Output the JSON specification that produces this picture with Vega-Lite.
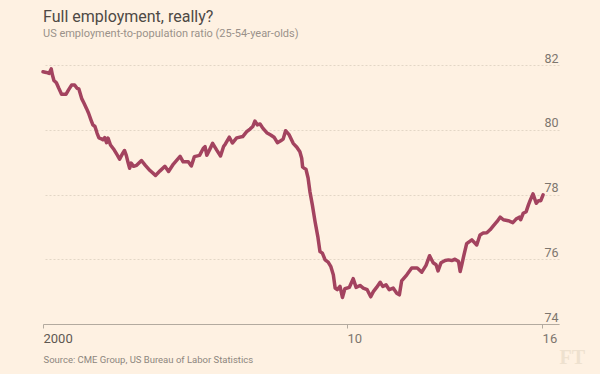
{
  "$schema": "https://vega.github.io/schema/vega-lite/v6.json",
  "width": 516,
  "height": 259,
  "autosize": "none",
  "padding": {"left": 43, "top": 65, "right": 41, "bottom": 50},
  "background": "#fef1e2",
  "config": {
    "view": {"stroke": null},
    "font": "Roboto"
  },
  "title": {
    "text": "Full employment, really?",
    "subtitle": "US employment-to-population ratio (25-54-year-olds)",
    "anchor": "start",
    "frame": "group",
    "font": "Roboto",
    "fontSize": 16,
    "fontWeight": "normal",
    "color": "#4e4945",
    "subtitleFont": "Roboto",
    "subtitleFontSize": 11,
    "subtitleColor": "#9a918a",
    "subtitlePadding": 3,
    "offset": 13
  },
  "data": {
    "values": [
      {"year": 2000.00, "ratio": 81.79},
      {"year": 2000.11, "ratio": 81.77},
      {"year": 2000.20, "ratio": 81.74},
      {"year": 2000.27, "ratio": 81.88},
      {"year": 2000.31, "ratio": 81.69},
      {"year": 2000.36, "ratio": 81.52},
      {"year": 2000.44, "ratio": 81.45},
      {"year": 2000.52, "ratio": 81.28},
      {"year": 2000.61, "ratio": 81.10},
      {"year": 2000.76, "ratio": 81.10},
      {"year": 2000.84, "ratio": 81.23},
      {"year": 2000.94, "ratio": 81.38},
      {"year": 2001.04, "ratio": 81.38},
      {"year": 2001.12, "ratio": 81.28},
      {"year": 2001.18, "ratio": 81.26},
      {"year": 2001.27, "ratio": 80.97},
      {"year": 2001.35, "ratio": 80.82},
      {"year": 2001.43, "ratio": 80.66},
      {"year": 2001.50, "ratio": 80.51},
      {"year": 2001.58, "ratio": 80.30},
      {"year": 2001.64, "ratio": 80.15},
      {"year": 2001.71, "ratio": 80.10},
      {"year": 2001.78, "ratio": 79.89},
      {"year": 2001.84, "ratio": 79.75},
      {"year": 2001.92, "ratio": 79.72},
      {"year": 2001.97, "ratio": 79.69},
      {"year": 2002.03, "ratio": 79.76},
      {"year": 2002.09, "ratio": 79.60},
      {"year": 2002.14, "ratio": 79.74},
      {"year": 2002.22, "ratio": 79.53},
      {"year": 2002.34, "ratio": 79.38},
      {"year": 2002.45, "ratio": 79.21},
      {"year": 2002.52, "ratio": 79.09},
      {"year": 2002.62, "ratio": 79.27},
      {"year": 2002.68, "ratio": 79.36},
      {"year": 2002.74, "ratio": 79.21},
      {"year": 2002.80, "ratio": 78.98},
      {"year": 2002.85, "ratio": 78.81},
      {"year": 2002.90, "ratio": 78.97},
      {"year": 2002.98, "ratio": 78.87},
      {"year": 2003.08, "ratio": 78.90},
      {"year": 2003.24, "ratio": 79.05},
      {"year": 2003.36, "ratio": 78.91},
      {"year": 2003.52, "ratio": 78.74},
      {"year": 2003.70, "ratio": 78.59},
      {"year": 2003.85, "ratio": 78.73},
      {"year": 2004.01, "ratio": 78.87},
      {"year": 2004.13, "ratio": 78.71},
      {"year": 2004.29, "ratio": 78.94},
      {"year": 2004.41, "ratio": 79.07},
      {"year": 2004.51, "ratio": 79.18},
      {"year": 2004.61, "ratio": 79.01},
      {"year": 2004.78, "ratio": 79.01},
      {"year": 2004.88, "ratio": 78.88},
      {"year": 2004.98, "ratio": 79.17},
      {"year": 2005.15, "ratio": 79.21},
      {"year": 2005.27, "ratio": 79.42},
      {"year": 2005.33, "ratio": 79.48},
      {"year": 2005.39, "ratio": 79.21},
      {"year": 2005.51, "ratio": 79.44},
      {"year": 2005.58, "ratio": 79.58},
      {"year": 2005.71, "ratio": 79.38},
      {"year": 2005.84, "ratio": 79.19},
      {"year": 2005.94, "ratio": 79.48},
      {"year": 2006.00, "ratio": 79.56},
      {"year": 2006.13, "ratio": 79.77},
      {"year": 2006.23, "ratio": 79.59},
      {"year": 2006.37, "ratio": 79.75},
      {"year": 2006.57, "ratio": 79.79},
      {"year": 2006.70, "ratio": 79.94},
      {"year": 2006.81, "ratio": 80.02},
      {"year": 2006.90, "ratio": 80.10},
      {"year": 2006.97, "ratio": 80.27},
      {"year": 2007.05, "ratio": 80.15},
      {"year": 2007.14, "ratio": 80.18},
      {"year": 2007.23, "ratio": 80.05},
      {"year": 2007.36, "ratio": 79.91},
      {"year": 2007.49, "ratio": 79.84},
      {"year": 2007.60, "ratio": 79.77},
      {"year": 2007.71, "ratio": 79.60},
      {"year": 2007.82, "ratio": 79.66},
      {"year": 2007.90, "ratio": 79.71},
      {"year": 2007.98, "ratio": 79.97},
      {"year": 2008.10, "ratio": 79.84},
      {"year": 2008.23, "ratio": 79.58},
      {"year": 2008.35, "ratio": 79.46},
      {"year": 2008.45, "ratio": 79.32},
      {"year": 2008.51, "ratio": 79.12},
      {"year": 2008.54, "ratio": 78.85},
      {"year": 2008.59, "ratio": 78.81},
      {"year": 2008.65, "ratio": 78.78},
      {"year": 2008.72, "ratio": 78.51},
      {"year": 2008.78, "ratio": 78.09},
      {"year": 2008.86, "ratio": 77.68},
      {"year": 2008.95, "ratio": 77.16},
      {"year": 2009.04, "ratio": 76.70},
      {"year": 2009.11, "ratio": 76.24},
      {"year": 2009.19, "ratio": 76.19},
      {"year": 2009.28, "ratio": 75.98},
      {"year": 2009.38, "ratio": 75.91},
      {"year": 2009.47, "ratio": 75.77},
      {"year": 2009.55, "ratio": 75.52},
      {"year": 2009.61, "ratio": 75.11},
      {"year": 2009.68, "ratio": 75.06},
      {"year": 2009.77, "ratio": 75.16},
      {"year": 2009.85, "ratio": 74.82},
      {"year": 2009.93, "ratio": 75.09},
      {"year": 2010.07, "ratio": 75.13},
      {"year": 2010.19, "ratio": 75.40},
      {"year": 2010.28, "ratio": 75.13},
      {"year": 2010.40, "ratio": 75.19},
      {"year": 2010.50, "ratio": 75.11},
      {"year": 2010.62, "ratio": 75.06},
      {"year": 2010.73, "ratio": 74.84},
      {"year": 2010.81, "ratio": 75.00},
      {"year": 2010.91, "ratio": 75.13},
      {"year": 2011.02, "ratio": 75.29},
      {"year": 2011.10, "ratio": 75.16},
      {"year": 2011.20, "ratio": 75.21},
      {"year": 2011.30, "ratio": 75.06},
      {"year": 2011.42, "ratio": 75.11},
      {"year": 2011.53, "ratio": 74.95},
      {"year": 2011.61, "ratio": 74.90},
      {"year": 2011.68, "ratio": 75.33},
      {"year": 2011.84, "ratio": 75.52},
      {"year": 2011.99, "ratio": 75.73},
      {"year": 2012.16, "ratio": 75.73},
      {"year": 2012.30, "ratio": 75.60},
      {"year": 2012.43, "ratio": 75.81},
      {"year": 2012.54, "ratio": 76.11},
      {"year": 2012.65, "ratio": 75.89},
      {"year": 2012.74, "ratio": 75.83},
      {"year": 2012.80, "ratio": 75.64},
      {"year": 2012.89, "ratio": 75.89},
      {"year": 2013.02, "ratio": 75.96},
      {"year": 2013.12, "ratio": 75.98},
      {"year": 2013.22, "ratio": 75.96},
      {"year": 2013.32, "ratio": 76.00},
      {"year": 2013.43, "ratio": 75.93},
      {"year": 2013.48, "ratio": 75.62},
      {"year": 2013.53, "ratio": 75.83},
      {"year": 2013.58, "ratio": 76.06},
      {"year": 2013.68, "ratio": 76.48},
      {"year": 2013.84, "ratio": 76.60},
      {"year": 2013.99, "ratio": 76.44},
      {"year": 2014.09, "ratio": 76.75},
      {"year": 2014.19, "ratio": 76.81},
      {"year": 2014.30, "ratio": 76.82},
      {"year": 2014.40, "ratio": 76.91},
      {"year": 2014.50, "ratio": 77.03},
      {"year": 2014.61, "ratio": 77.16},
      {"year": 2014.71, "ratio": 77.30},
      {"year": 2014.81, "ratio": 77.22},
      {"year": 2014.96, "ratio": 77.19},
      {"year": 2015.10, "ratio": 77.13},
      {"year": 2015.20, "ratio": 77.24},
      {"year": 2015.30, "ratio": 77.30},
      {"year": 2015.34, "ratio": 77.22},
      {"year": 2015.42, "ratio": 77.42},
      {"year": 2015.51, "ratio": 77.47},
      {"year": 2015.58, "ratio": 77.68},
      {"year": 2015.63, "ratio": 77.81},
      {"year": 2015.72, "ratio": 78.02},
      {"year": 2015.82, "ratio": 77.73},
      {"year": 2015.89, "ratio": 77.81},
      {"year": 2015.96, "ratio": 77.81},
      {"year": 2016.03, "ratio": 77.99}
    ]
  },
  "mark": {"type": "line", "color": "#a3435f", "strokeWidth": 3.5, "strokeJoin": "round", "strokeCap": "round", "clip": false},
  "encoding": {
    "x": {
      "field": "year",
      "type": "quantitative",
      "scale": {"domain": [2000, 2010, 2016.52], "range": [0, 304, 516], "nice": false, "zero": false},
      "axis": {
        "values": [2000, 2010, 2016],
        "labelExpr": "datum.value == 2000 ? '2000' : (datum.value == 2010 ? '10' : '16')",
        "grid": false,
        "domainColor": "#b3aa9f",
        "domainWidth": 1,
        "tickColor": "#b3aa9f",
        "tickSize": 4,
        "labelAlign": "left",
        "labelBaseline": "top",
        "labelPadding": 4,
        "labelFont": "Roboto",
        "labelFontSize": 13,
        "labelColor": {"condition": {"test": "datum.value == 2000", "value": "#5e5852"}, "value": "#7d766e"},
        "labelFontWeight": "normal",
        "labelOverlap": false,
        "labelFlush": false,
        "zindex": 1,
        "title": "Source: CME Group, US Bureau of Labor Statistics",
        "titleFont": "Roboto",
        "titleFontSize": 9.5,
        "titleFontWeight": "normal",
        "titleColor": "#8d867e",
        "titleAnchor": "start",
        "titleAlign": "left",
        "titleBaseline": "alphabetic",
        "titleX": 0,
        "titleY": 38
      }
    },
    "y": {
      "field": "ratio",
      "type": "quantitative",
      "scale": {"domain": [74, 82], "nice": false, "zero": false},
      "axis": {
        "orient": "right",
        "values": [74, 76, 78, 80, 82],
        "domain": false,
        "ticks": false,
        "tickSize": 0,
        "grid": true,
        "gridColor": "#e3d6c6",
        "gridDash": [2, 2],
        "gridWidth": 1,
        "labelAlign": "right",
        "labelBaseline": "alphabetic",
        "labelOffset": -3,
        "labelPadding": -1,
        "labelFont": "Roboto",
        "labelFontSize": 12.5,
        "labelColor": "#7d766e",
        "title": "FT",
        "titleFont": "Liberation Serif",
        "titleFontSize": 20,
        "titleFontWeight": "bold",
        "titleColor": "#eee1cf",
        "titleAngle": 0,
        "titleAlign": "left",
        "titleBaseline": "alphabetic",
        "titleX": 0,
        "titleY": 298
      }
    }
  }
}
